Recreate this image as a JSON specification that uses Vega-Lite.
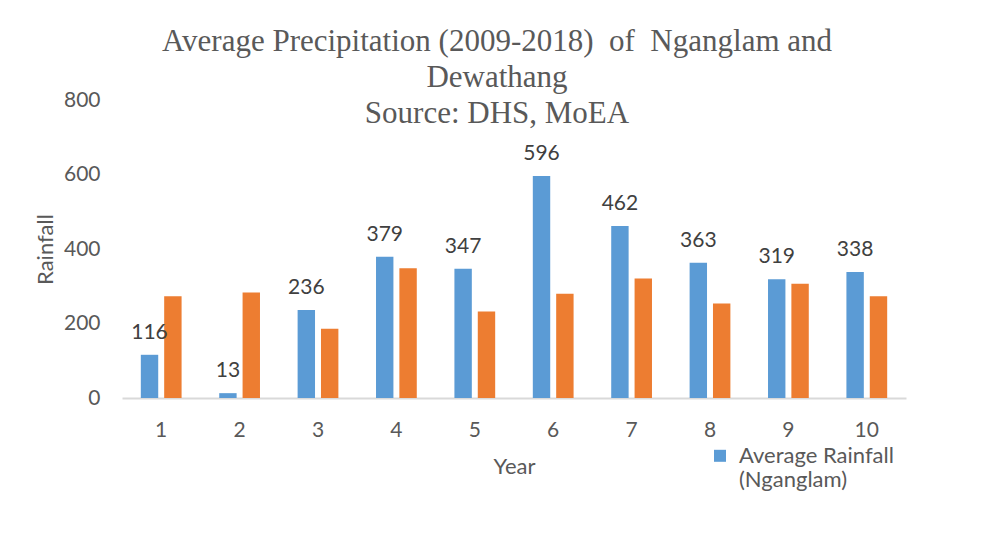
{
  "$schema": "https://vega.github.io/schema/vega-lite/v6.json",
  "width": 784,
  "height": 298,
  "autosize": {"type": "none"},
  "padding": {"left": 122, "top": 100, "right": 99, "bottom": 155},
  "background": "white",
  "config": {"view": {"stroke": null}},
  "title": {
    "text": ["Average Precipitation (2009-2018)\u00a0\u00a0of\u00a0\u00a0Nganglam and", "Dewathang", "Source: DHS, MoEA"],
    "font": "Liberation Serif",
    "fontSize": 31,
    "fontWeight": "normal",
    "color": "#595959",
    "anchor": "middle",
    "dx": -17,
    "offset": -41,
    "lineHeight": 36
  },
  "data": {
    "values": [
      {"year": 1, "series": "Average Rainfall (Nganglam)", "rainfall": 116},
      {"year": 2, "series": "Average Rainfall (Nganglam)", "rainfall": 13},
      {"year": 3, "series": "Average Rainfall (Nganglam)", "rainfall": 236},
      {"year": 4, "series": "Average Rainfall (Nganglam)", "rainfall": 379},
      {"year": 5, "series": "Average Rainfall (Nganglam)", "rainfall": 347},
      {"year": 6, "series": "Average Rainfall (Nganglam)", "rainfall": 596},
      {"year": 7, "series": "Average Rainfall (Nganglam)", "rainfall": 462},
      {"year": 8, "series": "Average Rainfall (Nganglam)", "rainfall": 363},
      {"year": 9, "series": "Average Rainfall (Nganglam)", "rainfall": 319},
      {"year": 10, "series": "Average Rainfall (Nganglam)", "rainfall": 338},
      {"year": 1, "series": "Average Rainfall (Dewathang)", "rainfall": 273},
      {"year": 2, "series": "Average Rainfall (Dewathang)", "rainfall": 283},
      {"year": 3, "series": "Average Rainfall (Dewathang)", "rainfall": 186},
      {"year": 4, "series": "Average Rainfall (Dewathang)", "rainfall": 348},
      {"year": 5, "series": "Average Rainfall (Dewathang)", "rainfall": 232},
      {"year": 6, "series": "Average Rainfall (Dewathang)", "rainfall": 280},
      {"year": 7, "series": "Average Rainfall (Dewathang)", "rainfall": 321},
      {"year": 8, "series": "Average Rainfall (Dewathang)", "rainfall": 254},
      {"year": 9, "series": "Average Rainfall (Dewathang)", "rainfall": 307},
      {"year": 10, "series": "Average Rainfall (Dewathang)", "rainfall": 273}
    ]
  },
  "encoding": {
    "x": {
      "field": "year",
      "type": "ordinal",
      "title": "Year",
      "scale": {"paddingInner": 0.48, "paddingOuter": 0.24},
      "axis": {
        "labelAngle": 0,
        "ticks": false,
        "domainColor": "#d9d9d9",
        "domainWidth": 2,
        "labelFont": "Lato",
        "labelFontSize": 21,
        "labelColor": "#595959",
        "labelPadding": 21,
        "titleFont": "Lato",
        "titleFontSize": 22,
        "titleFontWeight": "normal",
        "titleColor": "#595959",
        "titlePadding": 16
      }
    },
    "xOffset": {
      "field": "series",
      "type": "nominal",
      "scale": {"domain": ["Average Rainfall (Nganglam)", "Average Rainfall (Dewathang)"], "paddingInner": 0.255}
    },
    "y": {
      "field": "rainfall",
      "type": "quantitative",
      "title": "Rainfall",
      "scale": {"domain": [0, 800]},
      "axis": {
        "values": [0, 200, 400, 600, 800],
        "domain": false,
        "ticks": false,
        "grid": false,
        "labelFont": "Lato",
        "labelFontSize": 21,
        "labelColor": "#595959",
        "labelPadding": 22,
        "titleFont": "Lato",
        "titleFontSize": 22,
        "titleFontWeight": "normal",
        "titleColor": "#595959",
        "titlePadding": 6
      }
    }
  },
  "layer": [
    {
      "mark": {"type": "bar"},
      "encoding": {
        "color": {
          "field": "series",
          "type": "nominal",
          "scale": {"domain": ["Average Rainfall (Nganglam)", "Average Rainfall (Dewathang)"], "range": ["#5B9BD5", "#ED7D31"]},
          "legend": {
            "values": ["Average Rainfall (Nganglam)"],
            "title": null,
            "orient": "none",
            "legendX": 587,
            "legendY": 352,
            "symbolType": "M-1,-2.2H1V-0.2H-1Z",
            "symbolSize": 144,
            "symbolStrokeWidth": 0,
            "labelFont": "Lato",
            "labelFontSize": 22,
            "labelColor": "#595959",
            "labelLimit": 300,
            "labelBaseline": "alphabetic",
            "labelOffset": 8,
            "labelExpr": "['Average Rainfall', '(Nganglam)']"
          }
        }
      }
    },
    {
      "transform": [{"filter": "datum.series === 'Average Rainfall (Nganglam)'"}],
      "mark": {"type": "text", "dy": -12, "font": "Lato", "fontSize": 21, "color": "#404040", "baseline": "bottom"},
      "encoding": {
        "text": {"field": "rainfall", "type": "quantitative"}
      }
    }
  ]
}
